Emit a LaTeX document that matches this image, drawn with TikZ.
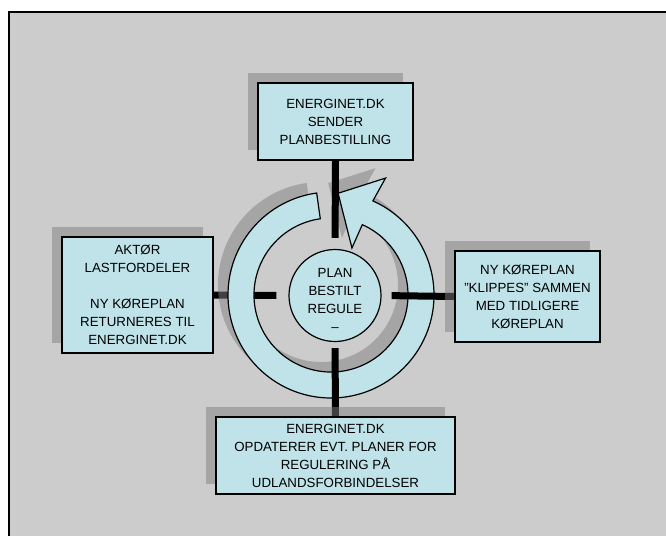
\documentclass[tikz,border=0pt]{standalone}
\usepackage{fontspec}
\setmainfont{Liberation Sans}
\usepackage{xcolor}
\usetikzlibrary{shadows}

\definecolor{PlanBlue}{RGB}{191,227,232}
\definecolor{FrameGray}{RGB}{204,204,204}
\pgfdeclarelayer{frame}
\pgfdeclarelayer{lowbar}
\pgfdeclarelayer{ringlayer}
\pgfdeclarelayer{bars}
\pgfsetlayers{frame,lowbar,ringlayer,bars,main}

\begin{document}
\begin{tikzpicture}[x=1pt,y=-1pt,
 every node/.style={font=\fontsize{13.3}{18}\selectfont, align=center, inner sep=0pt},
 flat shadow/.style={drop shadow={shadow xshift=-10pt,shadow yshift=10pt}},
 box/.style={draw, line width=1.2pt, fill=PlanBlue, flat shadow},
 hub/.style={circle, draw, line width=1.2pt, fill=PlanBlue, minimum size=92pt},
 ring/.style={draw, line width=1.2pt, fill=PlanBlue, line join=miter, flat shadow},
 bar/.style={line width=7pt}]
\useasboundingbox (0,0) rectangle (666,535);

\begin{pgfonlayer}{frame}
\clip (0,0) rectangle (666,535);
\filldraw[fill=FrameGray, line width=2pt] (9,12) rectangle (690,560);
\end{pgfonlayer}

% boxes round the cycle
\node[box, minimum width=155pt, minimum height=77pt] (sender) at (335.5,121.5)
  {ENERGINET.DK\\SENDER\\PLANBESTILLING};
\node[box, minimum width=151pt, minimum height=116pt] (aktor) at (137.5,295)
  {AKTØR\\LASTFORDELER\\[18pt]NY KØREPLAN\\RETURNERES TIL\\ENERGINET.DK};
\node[box, minimum width=145pt, minimum height=91pt] (klip) at (527.5,296.5)
  {NY KØREPLAN\\"KLIPPES" SAMMEN\\MED TIDLIGERE\\KØREPLAN};
\node[box, minimum width=239pt, minimum height=77pt] (opdat) at (335.5,455.5)
  {ENERGINET.DK\\OPDATERER EVT. PLANER FOR\\REGULERING PÅ\\UDLANDSFORBINDELSER};

\node[hub] (hub) at (335,295.5) {};
\node (hubtext) at (335,300) {PLAN\\BESTILT\\REGULE\\–};

% the round arrow
\begin{pgfonlayer}{ringlayer}
\begin{scope}[shift={(331,295)}, y=1pt]
\path[ring] (98:103) arc[start angle=98, end angle=426, radius=103]
  -- (425:129) -- (86:102) -- (426:51.5) -- (426:77)
  arc[start angle=426, end angle=98, radius=77] -- cycle;
\end{scope}
\end{pgfonlayer}

% connectors
\begin{pgfonlayer}{lowbar}
\draw[bar, shorten >=12pt] (aktor.east) -- (hub.west);
\end{pgfonlayer}
\begin{pgfonlayer}{bars}
\draw[bar, shorten >=11pt] (sender.south) -- (hub.north);
\draw[bar, shorten <=10pt] (hub.east) -- (klip.west);
\draw[bar, shorten <=6pt] (hub.south) -- (opdat.north);
\end{pgfonlayer}
\end{tikzpicture}
\end{document}
